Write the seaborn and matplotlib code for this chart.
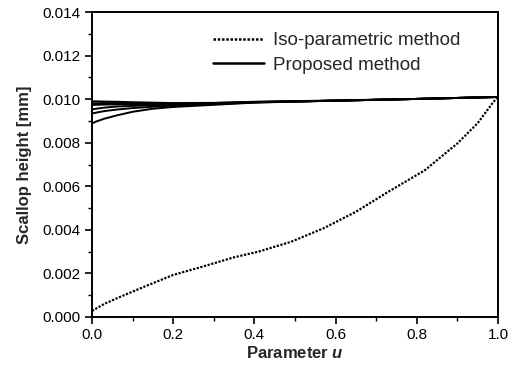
import matplotlib
matplotlib.use("Agg")
import matplotlib.pyplot as plt
import seaborn as sns
import pandas as pd
from matplotlib.ticker import MultipleLocator, FixedLocator, FixedFormatter

# ---- data ----
u_iso = [0.0, 0.03, 0.07, 0.13, 0.2, 0.27, 0.35, 0.41, 0.49, 0.57, 0.65, 0.73, 0.82, 0.90, 0.95, 0.99, 1.0]
h_iso = [0.00028, 0.0006, 0.00093, 0.0014, 0.00193, 0.0023, 0.00274, 0.0030, 0.00345, 0.00407,
         0.00483, 0.00575, 0.00674, 0.00797, 0.0089, 0.0099, 0.0101]

u_prop = [0.0, 0.01, 0.03, 0.06, 0.10, 0.15, 0.20, 0.30, 0.40, 0.60, 0.80, 1.0]
h_prop1 = [0.00990, 0.00990, 0.00989, 0.00988, 0.00986, 0.00984, 0.00982, 0.00983, 0.00988, 0.00994, 0.01001, 0.01010]
h_prop2 = [0.00981, 0.00981, 0.00982, 0.00982, 0.00981, 0.00980, 0.00979, 0.00982, 0.00987, 0.00993, 0.01001, 0.01010]
h_prop3 = [0.00973, 0.00974, 0.00975, 0.00976, 0.00976, 0.00976, 0.00976, 0.00980, 0.00986, 0.00993, 0.01001, 0.01010]
h_prop4 = [0.00953, 0.00956, 0.00961, 0.00966, 0.00969, 0.00972, 0.00974, 0.00979, 0.00986, 0.00993, 0.01001, 0.01010]
h_prop5 = [0.00934, 0.00938, 0.00945, 0.00952, 0.00959, 0.00965, 0.00970, 0.00977, 0.00985, 0.00993, 0.01001, 0.01010]
h_prop6 = [0.00888, 0.00897, 0.00910, 0.00925, 0.00942, 0.00956, 0.00964, 0.00974, 0.00984, 0.00993, 0.01001, 0.01010]
prop_sets = [h_prop1, h_prop2, h_prop3, h_prop4, h_prop5, h_prop6]

x_ticks = [0.0, 0.2, 0.4, 0.6, 0.8, 1.0]
x_ticklabels = ["0.0", "0.2", "0.4", "0.6", "0.8", "1.0"]
y_ticks = [0.000, 0.002, 0.004, 0.006, 0.008, 0.010, 0.012, 0.014]
y_ticklabels = ["0.000", "0.002", "0.004", "0.006", "0.008", "0.010", "0.012", "0.014"]
legend_labels = ["Iso-parametric method", "Proposed method"]

# ---- style ----
sns.set_style("ticks")
plt.rcParams["font.family"] = ["Liberation Sans", "DejaVu Sans"]
plt.rcParams["mathtext.fontset"] = "custom"
plt.rcParams["mathtext.it"] = "Liberation Sans:italic:bold"

fig = plt.figure(figsize=(5.14, 3.72), dpi=100)
ax = fig.add_axes([92 / 514, 55 / 372, 406 / 514, 305 / 372])

df_iso = pd.DataFrame({"u": u_iso, "h": h_iso})
sns.lineplot(data=df_iso, x="u", y="h", ax=ax, color="black", lw=1.6,
             linestyle=(0, (1, 0.7)), label=legend_labels[0])
for i, hp in enumerate(prop_sets):
    dfp = pd.DataFrame({"u": u_prop, "h": hp})
    sns.lineplot(data=dfp, x="u", y="h", ax=ax, color="black", lw=1.4,
                 label=legend_labels[1] if i == 0 else None)

ax.set_xlim(0.0, 1.0)
ax.set_ylim(0.0, 0.014)
ax.xaxis.set_major_locator(FixedLocator(x_ticks))
ax.xaxis.set_major_formatter(FixedFormatter(x_ticklabels))
ax.yaxis.set_major_locator(FixedLocator(y_ticks))
ax.yaxis.set_major_formatter(FixedFormatter(y_ticklabels))
ax.xaxis.set_minor_locator(MultipleLocator(0.1))
ax.yaxis.set_minor_locator(MultipleLocator(0.001))
ax.tick_params(axis="both", which="major", direction="out", length=5, width=1.2,
               labelsize=11, color="black", labelcolor="black", pad=3)
ax.tick_params(axis="both", which="minor", direction="out", length=3, width=1.0, color="black")
for s in ax.spines.values():
    s.set_visible(True)
    s.set_linewidth(1.4)
    s.set_color("black")

ax.set_xlabel("Parameter $\\mathit{u}$", fontsize=12, fontweight="bold", labelpad=2)
ax.set_ylabel("Scallop height [mm]", fontsize=12, fontweight="bold", labelpad=8)

leg = ax.legend(loc="upper left", bbox_to_anchor=(0.29, 0.946), frameon=False,
                fontsize=13.5, handlelength=2.7, handletextpad=0.5,
                labelspacing=0.38, borderpad=0.2, borderaxespad=0)
for line in leg.get_lines():
    line.set_linewidth(1.8)

fig.savefig("out.png", dpi=100)
